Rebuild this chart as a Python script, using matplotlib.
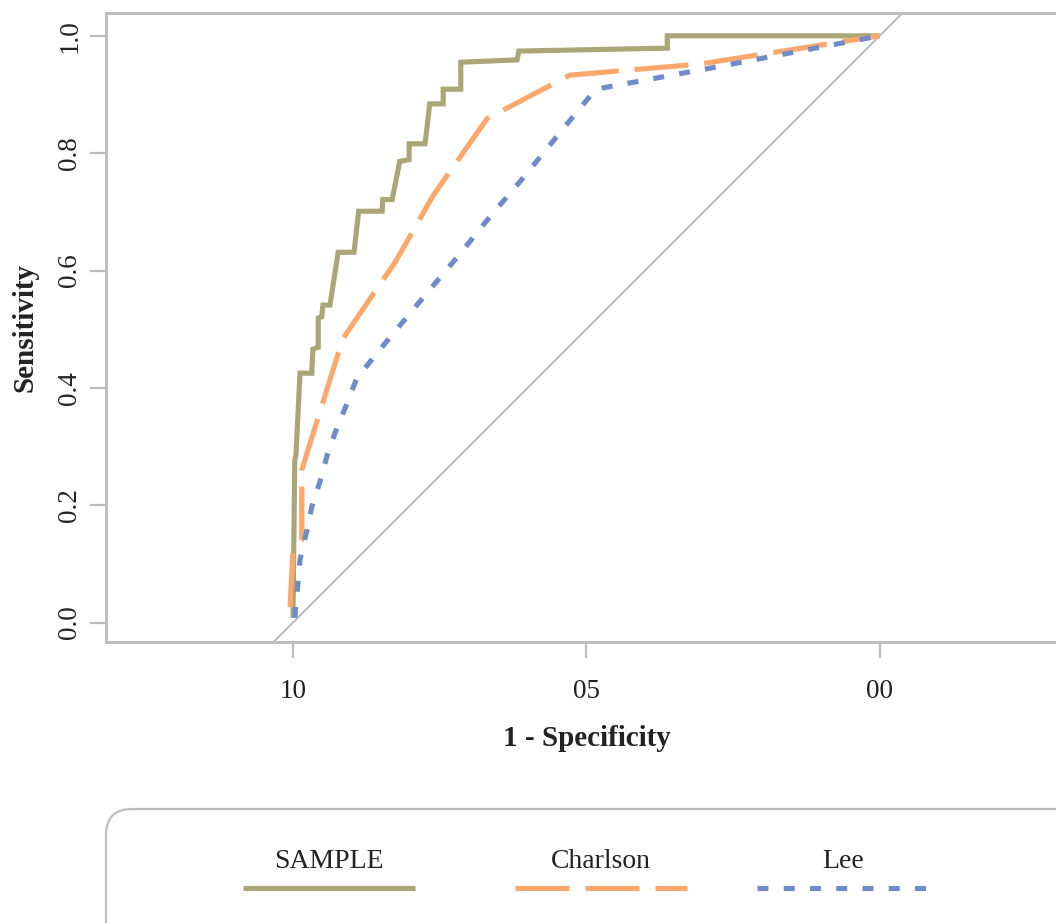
import matplotlib
matplotlib.use('Agg')
import matplotlib.pyplot as plt
from matplotlib.patches import FancyBboxPatch
from matplotlib.lines import Line2D

plt.rcParams['font.family'] = ['Liberation Serif', 'DejaVu Serif']
plt.rcParams['lines.scale_dashes'] = False

# ---------------- data ----------------
sample_spec = [1.000, 0.997, 0.995, 0.988, 0.968, 0.966, 0.957, 0.957, 0.951, 0.949,
               0.937, 0.923, 0.896, 0.888, 0.848, 0.847, 0.831, 0.818, 0.802, 0.802,
               0.775, 0.772, 0.767, 0.744, 0.744, 0.714, 0.714, 0.618, 0.615, 0.362,
               0.362, 0.000]
sample_sens = [0.008, 0.277, 0.285, 0.425, 0.425, 0.466, 0.469, 0.519, 0.521, 0.541,
               0.541, 0.631, 0.631, 0.701, 0.701, 0.721, 0.721, 0.786, 0.789, 0.816,
               0.816, 0.840, 0.884, 0.884, 0.909, 0.909, 0.955, 0.959, 0.974, 0.979,
               1.000, 1.000]

charlson_spec = [1.005, 1.000, 0.985, 0.985, 0.915, 0.826, 0.761, 0.669, 0.528, 0.306, 0.000]
charlson_sens = [0.026, 0.124, 0.141, 0.260, 0.484, 0.614, 0.728, 0.859, 0.933, 0.952, 1.000]

lee_spec = [0.997, 0.991, 0.988, 0.976, 0.968, 0.954, 0.940, 0.925, 0.908, 0.891,
            0.838, 0.778, 0.719, 0.664, 0.605, 0.545, 0.484, 0.267, 0.000]
lee_sens = [0.008, 0.072, 0.107, 0.158, 0.197, 0.240, 0.291, 0.332, 0.373, 0.417,
            0.482, 0.554, 0.624, 0.692, 0.761, 0.835, 0.909, 0.949, 1.000]

series_names = ['SAMPLE', 'Charlson', 'Lee']

x_ticks = [1.0, 0.5, 0.0]
x_tick_labels = ['10', '05', '00']
y_ticks = [0.0, 0.2, 0.4, 0.6, 0.8, 1.0]
y_tick_labels = ['0.0', '0.2', '0.4', '0.6', '0.8', '1.0']

# ---------------- styles ----------------
c_sample = '#aaa677'
c_charlson = '#fca86d'
c_lee = '#6e8cc9'
c_axis = '#bdbdc0'
c_diag = '#bebebe'
lw = 3.7
styles = [
    dict(color=c_sample, lw=lw, solid_capstyle='butt', solid_joinstyle='miter'),
    dict(color=c_charlson, lw=lw, dashes=(38.9, 11.5), dash_capstyle='butt'),
    dict(color=c_lee, lw=lw, dashes=(7.9, 11.0), dash_capstyle='butt'),
]

W, H = 1056, 923
fig = plt.figure(figsize=(W / 100, H / 100), dpi=100)

# legend layer (pixel coordinates)
lax = fig.add_axes([0, 0, 1, 1])
lax.set_xlim(0, W)
lax.set_ylim(H, 0)
lax.axis('off')
lax.patch.set_alpha(0)

ax = fig.add_axes([106 / W, (H - 642) / H, 962 / W, 629 / H])
ax.patch.set_alpha(0)
ax.set_xlim(1.3187, -0.321)
ax.set_ylim(-0.0332, 1.0389)

ax.axline((1.0, 0.0), (0.0, 1.0), color=c_diag, lw=1.5, zorder=1)

xs = [sample_spec, charlson_spec, lee_spec]
ys = [sample_sens, charlson_sens, lee_sens]
for i, (x, y) in enumerate(zip(xs, ys)):
    ax.plot(x, y, zorder=2 + i, **styles[i])

for s in ['left', 'top', 'bottom']:
    ax.spines[s].set_color(c_axis)
    ax.spines[s].set_linewidth(2.2)
ax.spines['right'].set_visible(False)

ax.set_xticks(x_ticks)
ax.set_xticklabels(x_tick_labels)
ax.set_yticks(y_ticks)
ax.set_yticklabels(y_tick_labels, rotation=90, va='center')
ax.tick_params(axis='both', direction='out', length=11.5, width=1.6, color=c_axis,
               labelsize=19.5, labelcolor='#222222')
ax.tick_params(axis='x', pad=15.5)
ax.tick_params(axis='y', pad=5.5)

ax.set_xlabel('1 - Specificity', fontsize=21, fontweight='bold', color='#222222', va='center')
ax.xaxis.set_label_coords(0.5, -0.154)
ax.set_ylabel('Sensitivity', fontsize=21, fontweight='bold', color='#222222', va='center')
ax.yaxis.set_label_coords((25 - 106) / 962, 0.5)

# legend
box = FancyBboxPatch((106, 809), 1100, 300, boxstyle='round,pad=0,rounding_size=26',
                     facecolor='white', edgecolor=c_axis, lw=1.6)
lax.add_patch(box)
leg_x = [(243, 415), (515, 687), (757, 929)]
for i, name in enumerate(series_names):
    x0, x1 = leg_x[i]
    lax.add_line(Line2D([x0, x1], [888, 888], **styles[i]))
    lax.text((x0 + x1) / 2, 862, name, ha='center', va='center', fontsize=20, color='#222222')

fig.savefig('out.png', dpi=100)
